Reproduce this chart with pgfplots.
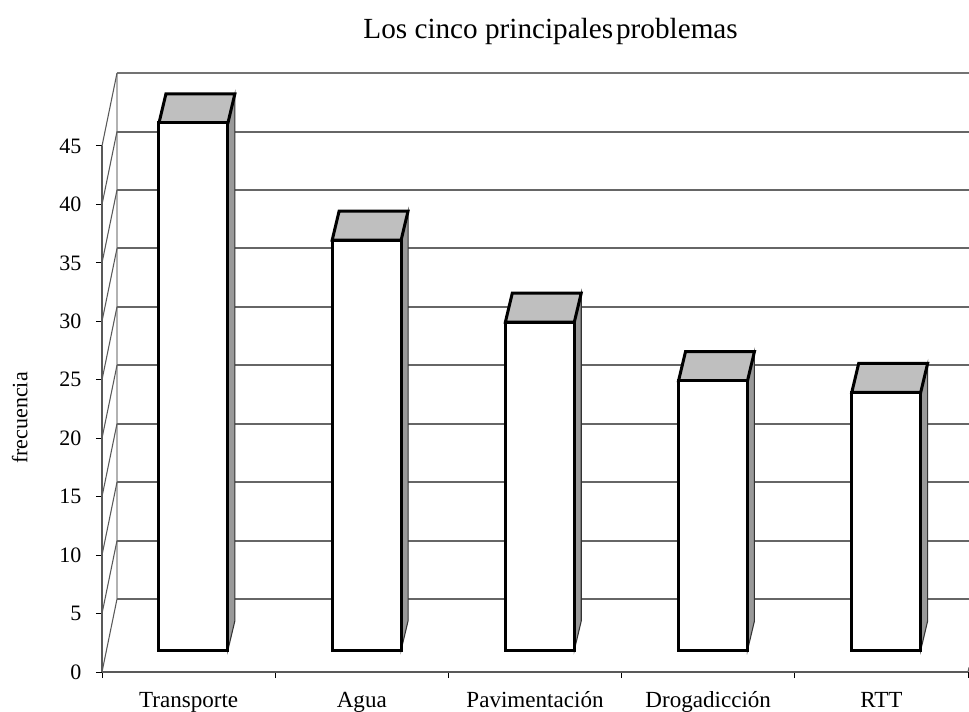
\documentclass[border=0pt]{standalone}
\usepackage{fontspec}
\setmainfont{Liberation Serif}
\usepackage{pgfplots}
\pgfplotsset{compat=1.18}
\definecolor{topgray}{gray}{0.75}
\definecolor{sidegray}{gray}{0.6}
\definecolor{wallgray}{gray}{0.35}
\begin{document}
\begin{tikzpicture}
\path[use as bounding box] (0,0) rectangle (726.75pt,533.25pt);
% walls, grid and ticks: 1px = 0.75pt
\begin{axis}[
    at={(76.5pt,29.25pt)}, anchor=origin,
    scale only axis, width=649.5pt, height=394.5pt,
    xmin=0, xmax=5, ymin=0, ymax=45,
    clip=false,
    axis x line*=bottom, axis y line*=left,
    axis line style={wallgray, line width=1.5pt, -},
    tick style={black, line width=0.75pt},
    major tick length=4.5pt,
    xtick={0,1,2,3,4,5}, xticklabels={},
    tick align=outside,
    extra x ticks={0.5,1.5,2.5,3.5,4.5},
    extra x tick labels={Transporte,Agua,Pavimentación,Drogadicción,RTT},
    extra x tick style={major tick length=0pt, tick label style={yshift=-11pt, text height=12pt, text depth=3pt, font=\fontsize{17.3pt}{20pt}\selectfont}},
    ytick={0,5,...,45},
    yticklabel style={xshift=-7.5pt, font=\fontsize{16.5pt}{20pt}\selectfont},
    /pgf/number format/assume math mode=true,
    title={Los cinco principales\hspace{0.1em}problemas},
    title style={font=\fontsize{21.9pt}{26pt}\selectfont, at={(rel axis cs:0.518,1.203)}, anchor=center},
    ylabel={frecuencia},
    ylabel style={font=\fontsize{16.5pt}{20pt}\selectfont, at={(rel axis cs:-0.095,0.483)}, anchor=center},
]
\addplot[no marks, black!30, line width=1.5pt] coordinates {(0.0866,6.24)(0.0866,51.24)};
\addplot[no marks, black!60, line width=1.5pt] coordinates {(0.0866,6.24)(5.006,6.24)};
\addplot[no marks, black!60, line width=1.5pt] coordinates {(0.0866,11.24)(5.006,11.24)};
\addplot[no marks, black!60, line width=1.5pt] coordinates {(0.0866,16.24)(5.006,16.24)};
\addplot[no marks, black!60, line width=1.5pt] coordinates {(0.0866,21.24)(5.006,21.24)};
\addplot[no marks, black!60, line width=1.5pt] coordinates {(0.0866,26.24)(5.006,26.24)};
\addplot[no marks, black!60, line width=1.5pt] coordinates {(0.0866,31.24)(5.006,31.24)};
\addplot[no marks, black!60, line width=1.5pt] coordinates {(0.0866,36.24)(5.006,36.24)};
\addplot[no marks, black!60, line width=1.5pt] coordinates {(0.0866,41.24)(5.006,41.24)};
\addplot[no marks, black!60, line width=1.5pt] coordinates {(0.0866,46.24)(5.006,46.24)};
\addplot[no marks, black!55, line width=1.5pt] coordinates {(0.0866,51.24)(5.006,51.24)};
\addplot[no marks, wallgray, line width=0.8pt] coordinates {(0,0)(0.0866,6.24)};
\addplot[no marks, wallgray, line width=0.8pt] coordinates {(0,5)(0.0866,11.24)};
\addplot[no marks, wallgray, line width=0.8pt] coordinates {(0,10)(0.0866,16.24)};
\addplot[no marks, wallgray, line width=0.8pt] coordinates {(0,15)(0.0866,21.24)};
\addplot[no marks, wallgray, line width=0.8pt] coordinates {(0,20)(0.0866,26.24)};
\addplot[no marks, wallgray, line width=0.8pt] coordinates {(0,25)(0.0866,31.24)};
\addplot[no marks, wallgray, line width=0.8pt] coordinates {(0,30)(0.0866,36.24)};
\addplot[no marks, wallgray, line width=0.8pt] coordinates {(0,35)(0.0866,41.24)};
\addplot[no marks, wallgray, line width=0.8pt] coordinates {(0,40)(0.0866,46.24)};
\addplot[no marks, wallgray, line width=0.8pt] coordinates {(0,45)(0.0866,51.24)};
\addplot[no marks, wallgray, line width=0.8pt] coordinates {(5,0)(5.006,0.4)};
\end{axis}
% bars: values 45,35,28,23,22, base raised to the floor's middle
\begin{axis}[
    at={(76.5pt,45.75pt)}, anchor=origin,
    scale only axis, width=649.5pt, height=395.25pt,
    xmin=0, xmax=5, ymin=0, ymax=45,
    clip=false, hide axis,
    every axis plot/.append style={no marks, line width=2.25pt, line join=miter},
]
% Transporte
\addplot[fill=sidegray, draw=black!80, line width=0.8pt] coordinates {(0.727,0)(0.767,2.48)(0.767,47.48)(0.727,45)} -- cycle;
\addplot[fill=topgray, draw=black] coordinates {(0.329,45)(0.727,45)(0.767,47.48)(0.369,47.48)} -- cycle;
\addplot[fill=white, draw=black] coordinates {(0.329,0)(0.727,0)(0.727,45)(0.329,45)} -- cycle;
% Agua
\addplot[fill=sidegray, draw=black!80, line width=0.8pt] coordinates {(1.727,0)(1.767,2.48)(1.767,37.48)(1.727,35)} -- cycle;
\addplot[fill=topgray, draw=black] coordinates {(1.329,35)(1.727,35)(1.767,37.48)(1.369,37.48)} -- cycle;
\addplot[fill=white, draw=black] coordinates {(1.329,0)(1.727,0)(1.727,35)(1.329,35)} -- cycle;
% Pavimentacion
\addplot[fill=sidegray, draw=black!80, line width=0.8pt] coordinates {(2.727,0)(2.767,2.48)(2.767,30.48)(2.727,28)} -- cycle;
\addplot[fill=topgray, draw=black] coordinates {(2.329,28)(2.727,28)(2.767,30.48)(2.369,30.48)} -- cycle;
\addplot[fill=white, draw=black] coordinates {(2.329,0)(2.727,0)(2.727,28)(2.329,28)} -- cycle;
% Drogadiccion
\addplot[fill=sidegray, draw=black!80, line width=0.8pt] coordinates {(3.727,0)(3.767,2.48)(3.767,25.48)(3.727,23)} -- cycle;
\addplot[fill=topgray, draw=black] coordinates {(3.329,23)(3.727,23)(3.767,25.48)(3.369,25.48)} -- cycle;
\addplot[fill=white, draw=black] coordinates {(3.329,0)(3.727,0)(3.727,23)(3.329,23)} -- cycle;
% RTT
\addplot[fill=sidegray, draw=black!80, line width=0.8pt] coordinates {(4.727,0)(4.767,2.48)(4.767,24.48)(4.727,22)} -- cycle;
\addplot[fill=topgray, draw=black] coordinates {(4.329,22)(4.727,22)(4.767,24.48)(4.369,24.48)} -- cycle;
\addplot[fill=white, draw=black] coordinates {(4.329,0)(4.727,0)(4.727,22)(4.329,22)} -- cycle;
\end{axis}
\end{tikzpicture}
\end{document}
